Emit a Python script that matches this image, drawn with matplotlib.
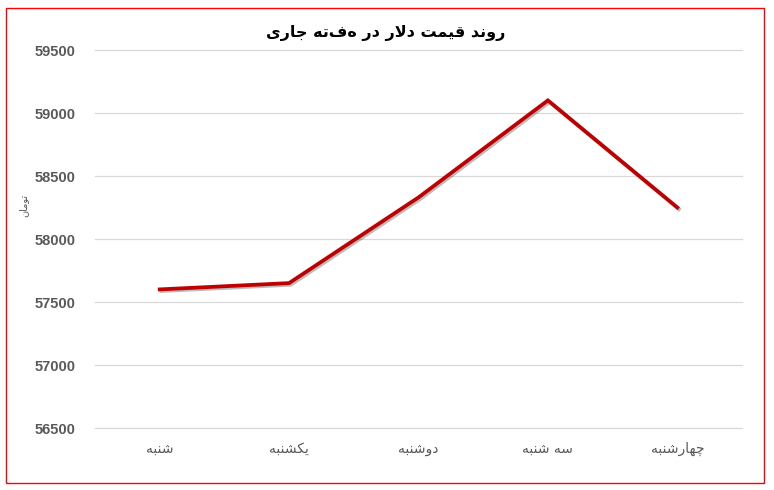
import matplotlib
matplotlib.use("Agg")
import matplotlib.pyplot as plt
import matplotlib.patheffects as pe
from matplotlib.patches import Rectangle

# ---- data ----
days = ["شنبه", "یکشنبه", "دوشنبه", "سه شنبه", "چهارشنبه"]
prices = [57600, 57650, 58330, 59100, 58250]
yticks = [56500, 57000, 57500, 58000, 58500, 59000, 59500]
title = "روند قیمت دلار در هفته جاری"
ylabel = "تومان"

# ---- minimal Persian shaping (matplotlib 3.10 has no text shaping) ----
FORMS = {
    '\u0627': ('\uFE8D', '\uFE8E', None, None),
    '\u0628': ('\uFE8F', '\uFE90', '\uFE91', '\uFE92'),
    '\u062A': ('\uFE95', '\uFE96', '\uFE97', '\uFE98'),
    '\u062C': ('\uFE9D', '\uFE9E', '\uFE9F', '\uFEA0'),
    '\u062F': ('\uFEA9', '\uFEAA', None, None),
    '\u0631': ('\uFEAD', '\uFEAE', None, None),
    '\u0633': ('\uFEB1', '\uFEB2', '\uFEB3', '\uFEB4'),
    '\u0634': ('\uFEB5', '\uFEB6', '\uFEB7', '\uFEB8'),
    '\u0642': ('\uFED5', '\uFED6', '\uFED7', '\uFED8'),
    '\u0644': ('\uFEDD', '\uFEDE', '\uFEDF', '\uFEE0'),
    '\u0645': ('\uFEE1', '\uFEE2', '\uFEE3', '\uFEE4'),
    '\u0646': ('\uFEE5', '\uFEE6', '\uFEE7', '\uFEE8'),
    '\u0647': ('\uFEE9', '\uFEEA', '\uFEEB', '\uFEEC'),
    '\u0648': ('\uFEED', '\uFEEE', None, None),
    '\u06CC': ('\uFBFC', '\uFBFD', '\uFBFE', '\uFBFF'),
    '\u06A9': ('\uFB8E', '\uFB8F', '\uFB90', '\uFB91'),
    '\u0686': ('\uFB7A', '\uFB7B', '\uFB7C', '\uFB7D'),
}


def dual(c):
    return c in FORMS and FORMS[c][2] is not None


def shape(s):
    out = []
    i = 0
    n = len(s)
    while i < n:
        c = s[i]
        if c not in FORMS:
            out.append(c)
            i += 1
            continue
        prev_join = i > 0 and dual(s[i - 1])
        if c == '\u0644' and i + 1 < n and s[i + 1] == '\u0627':
            out.append('\uFEFC' if prev_join else '\uFEFB')
            i += 2
            continue
        next_join = i + 1 < n and s[i + 1] in FORMS
        iso, fin, ini, med = FORMS[c]
        if dual(c) and prev_join and next_join:
            out.append(med)
        elif prev_join:
            out.append(fin)
        elif dual(c) and next_join:
            out.append(ini)
        else:
            out.append(iso)
        i += 1
    return ''.join(out)[::-1]


AR = ['DejaVu Sans']
NUM = ['Liberation Sans', 'DejaVu Sans']
GRAY = '#595959'

fig = plt.figure(figsize=(7.74, 4.90), dpi=100)
ax = fig.add_axes([95 / 774, 1 - 428 / 490, (742 - 95) / 774, (428 - 50) / 490])

x = list(range(len(days)))
ax.plot(x, prices, color='#C00000', linewidth=2.7, solid_joinstyle='miter',
        path_effects=[pe.SimpleLineShadow(offset=(1.2, -1.2), shadow_color='#404040', alpha=0.35),
                      pe.Normal()], zorder=3)

ax.set_xlim(-0.5, len(days) - 0.5)
ax.set_ylim(yticks[0], yticks[-1])
ax.set_yticks(yticks)
ax.set_yticklabels([str(v) for v in yticks], fontfamily=NUM, fontweight='bold',
                   fontsize=10.5, color=GRAY)
ax.set_xticks(x)
ax.set_xticklabels([shape(d) for d in days], fontfamily=AR, fontsize=10, color=GRAY)
ax.tick_params(axis='both', length=0)
ax.tick_params(axis='y', pad=14)
ax.tick_params(axis='x', pad=10)
ax.grid(axis='y', color='#D9D9D9', linewidth=0.9)
for gl in ax.get_ygridlines():
    gl.set_clip_on(False)
ax.set_axisbelow(True)
for sp in ax.spines.values():
    sp.set_visible(False)

fig.text(386 / 774, 1 - 33 / 490, shape(title), ha='center', va='center',
         fontfamily=AR, fontweight='bold', fontsize=11.5, color='black')
fig.text(23 / 774, 1 - 205 / 490, shape(ylabel), ha='center', va='center',
         rotation=90, fontfamily=AR, fontsize=7, color=GRAY)

fig.patches.append(Rectangle((5.5 / 774, 1 - 482.5 / 490), (763 - 5) / 774, (482 - 8) / 490,
                             transform=fig.transFigure, fill=False, edgecolor='#FF0000',
                             linewidth=1.0, zorder=10))

fig.savefig('out.png', dpi=100)
